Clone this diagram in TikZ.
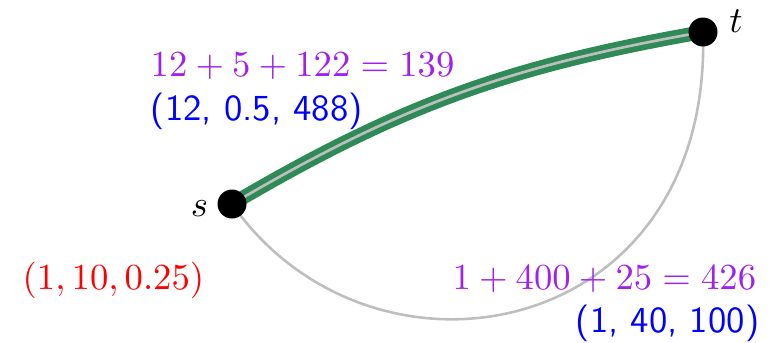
\documentclass[tikz,border=0pt]{standalone}
\usetikzlibrary{calc}
\definecolor{pathgreen}{RGB}{46,139,87}
\definecolor{edgegray}{RGB}{190,190,190}
\definecolor{labpurple}{RGB}{160,32,240}
\begin{document}
\begin{tikzpicture}[x=0.2725pt,y=-0.2725pt,
  vert/.style={circle,fill=black,inner sep=0pt,minimum size=7.9pt},
  lab/.style={inner sep=0pt},
  thinedge/.style={draw=edgegray,line width=0.7pt},
  bestouter/.style={draw=pathgreen,line width=3.8pt},
  bestinner/.style={draw=edgegray,line width=0.72pt}]
\useasboundingbox (0,0) rectangle (781,342);
\coordinate (sc) at (232,204);
\coordinate (tc) at (703,32);
\draw[thinedge] (sc) .. controls (372,404) and (712,342) .. (tc);
\draw[bestouter] (sc) .. controls (402,104) and (510,66) .. (tc);
\draw[bestinner] (sc) .. controls (402,104) and (510,66) .. (tc);
\node[vert] (s) at (sc) {};
\node[vert] (t) at (tc) {};
\node[lab,anchor=base] (sl) at (199.5,216) {$s$};
\node[lab,anchor=base] (tl) at (736,32.5) {$t$};
\node[lab,anchor=base west,text=labpurple] (w1) at (150,76) {$12+5+122=139$};
\node[lab,anchor=base west,text=blue] (v1) at (150,120) {\sffamily (12, 0.5, 488)};
\node[lab,anchor=base west,text=red] (r1) at (22,289) {$(1,10,0.25)$};
\node[lab,anchor=base east,text=labpurple] (w2) at (757,289) {$1+400+25=426$};
\node[lab,anchor=base east,text=blue] (v2) at (760,332) {\sffamily (1, 40, 100)};
\end{tikzpicture}
\end{document}
